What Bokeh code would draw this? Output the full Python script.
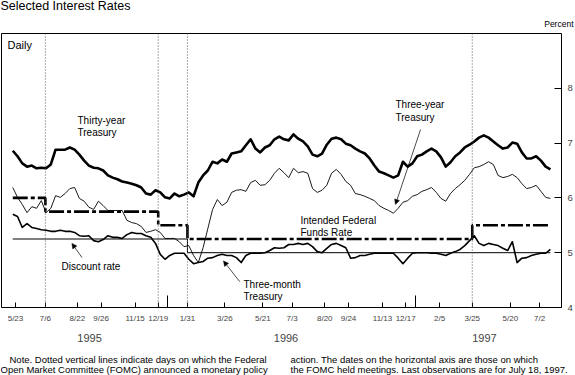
import pandas as pd
from bokeh.plotting import figure
from bokeh.layouts import column
from bokeh.models import (ColumnDataSource, LinearAxis, FixedTicker, Span, Label,
                          Arrow, NormalHead, Range1d)
from bokeh.embed import file_html
from bokeh.resources import INLINE

# ---------------- data (weekly readings, percent) ----------------
weeks = [
    "1995-05-19", "1995-05-26", "1995-06-02", "1995-06-09", "1995-06-16", "1995-06-23", "1995-06-30",
    "1995-07-07", "1995-07-14", "1995-07-21", "1995-07-28", "1995-08-04", "1995-08-11", "1995-08-18",
    "1995-08-25", "1995-09-01", "1995-09-08", "1995-09-15", "1995-09-22", "1995-09-29", "1995-10-06",
    "1995-10-13", "1995-10-20", "1995-10-27", "1995-11-03", "1995-11-10", "1995-11-17", "1995-11-24",
    "1995-12-01", "1995-12-08", "1995-12-15", "1995-12-22", "1995-12-29",
    "1996-01-05", "1996-01-12", "1996-01-19", "1996-01-26", "1996-02-02", "1996-02-09", "1996-02-16",
    "1996-02-23", "1996-03-01", "1996-03-08", "1996-03-15", "1996-03-22", "1996-03-29", "1996-04-05",
    "1996-04-12", "1996-04-19", "1996-04-26", "1996-05-03", "1996-05-10", "1996-05-17", "1996-05-24",
    "1996-05-31", "1996-06-07", "1996-06-14", "1996-06-21", "1996-06-28", "1996-07-05", "1996-07-12",
    "1996-07-19", "1996-07-26", "1996-08-02", "1996-08-09", "1996-08-16", "1996-08-23", "1996-08-30",
    "1996-09-06", "1996-09-13", "1996-09-20", "1996-09-27", "1996-10-04", "1996-10-11", "1996-10-18",
    "1996-10-25", "1996-11-01", "1996-11-08", "1996-11-15", "1996-11-22", "1996-11-29", "1996-12-06",
    "1996-12-13", "1996-12-20", "1996-12-27",
    "1997-01-03", "1997-01-10", "1997-01-17", "1997-01-24", "1997-01-31", "1997-02-07", "1997-02-14",
    "1997-02-21", "1997-02-28", "1997-03-07", "1997-03-14", "1997-03-21", "1997-03-28", "1997-04-04",
    "1997-04-11", "1997-04-18", "1997-04-25", "1997-05-02", "1997-05-09", "1997-05-16", "1997-05-23",
    "1997-05-30", "1997-06-06", "1997-06-13", "1997-06-20", "1997-06-27", "1997-07-04", "1997-07-11",
    "1997-07-18",
]

thirty_year = [
    6.86, 6.76, 6.63, 6.57, 6.59, 6.54, 6.55, 6.54, 6.61, 6.88,
    6.88, 6.88, 6.92, 6.88, 6.79, 6.68, 6.59, 6.55, 6.54, 6.50,
    6.41, 6.37, 6.34, 6.30, 6.28, 6.26, 6.23, 6.19, 6.08, 6.06,
    6.14, 6.10, 6.01, 5.99, 6.08, 6.03, 6.06, 6.10, 6.03, 6.28,
    6.41, 6.50, 6.66, 6.63, 6.70, 6.66, 6.81, 6.83, 6.85, 6.96,
    7.07, 6.90, 6.83, 6.92, 6.96, 7.07, 7.12, 7.07, 7.05, 7.16,
    7.08, 7.03, 6.94, 6.79, 6.76, 6.81, 6.97, 7.08, 7.10, 7.07,
    6.99, 6.96, 6.90, 6.85, 6.81, 6.72, 6.59, 6.48, 6.45, 6.41,
    6.37, 6.41, 6.66, 6.57, 6.63, 6.76, 6.79, 6.85, 6.90, 6.85,
    6.74, 6.57, 6.65, 6.76, 6.83, 6.92, 6.97, 7.03, 7.10, 7.14,
    7.10, 7.03, 6.96, 6.90, 6.92, 7.01, 6.99, 6.83, 6.72, 6.72,
    6.76, 6.68, 6.57, 6.52,
]

three_year = [
    6.19, 6.01, 5.88, 5.73, 5.84, 5.81, 5.95, 5.73, 5.81, 6.04,
    6.01, 6.08, 6.17, 6.19, 5.99, 5.94, 5.83, 5.79, 5.94, 5.86,
    5.77, 5.77, 5.77, 5.77, 5.59, 5.55, 5.53, 5.48, 5.37, 5.39,
    5.42, 5.37, 5.26, 5.26, 5.26, 5.20, 5.11, 5.13, 4.95, 4.82,
    5.09, 5.44, 5.79, 5.97, 5.86, 5.92, 6.10, 6.14, 6.15, 6.12,
    6.28, 6.32, 6.23, 6.24, 6.32, 6.45, 6.54, 6.46, 6.37, 6.54,
    6.46, 6.48, 6.45, 6.17, 6.10, 6.14, 6.23, 6.45, 6.52, 6.43,
    6.30, 6.23, 6.08, 6.06, 6.03, 5.99, 5.95, 5.86, 5.81, 5.77,
    5.72, 5.81, 5.92, 5.95, 6.03, 6.06, 6.12, 6.15, 6.19, 6.10,
    5.99, 5.94, 6.08, 6.17, 6.24, 6.32, 6.43, 6.55, 6.57, 6.61,
    6.66, 6.61, 6.41, 6.37, 6.39, 6.43, 6.37, 6.26, 6.17, 6.19,
    6.23, 6.12, 6.01, 5.99,
]

three_month = [
    5.70, 5.66, 5.46, 5.53, 5.46, 5.44, 5.42, 5.41, 5.39, 5.39,
    5.41, 5.39, 5.39, 5.37, 5.31, 5.30, 5.31, 5.22, 5.20, 5.24,
    5.31, 5.28, 5.28, 5.26, 5.33, 5.37, 5.35, 5.35, 5.31, 5.28,
    5.17, 4.97, 4.88, 4.95, 4.99, 4.99, 4.99, 4.88, 4.80, 4.82,
    4.84, 4.90, 4.91, 4.95, 4.97, 4.95, 4.95, 4.91, 4.82, 4.95,
    4.99, 4.99, 4.99, 5.00, 5.04, 5.09, 5.08, 5.09, 5.15, 5.15,
    5.17, 5.15, 5.17, 5.11, 5.02, 5.00, 5.08, 5.15, 5.17, 5.13,
    5.09, 4.90, 4.91, 4.95, 4.95, 4.97, 4.99, 4.99, 4.99, 4.99,
    4.99, 4.90, 4.80, 4.90, 4.99, 5.00, 5.00, 5.00, 4.99, 4.99,
    4.97, 4.95, 4.99, 5.02, 5.06, 5.13, 5.22, 5.31, 5.17, 5.13,
    5.17, 5.15, 5.13, 5.08, 5.04, 5.20, 4.82, 4.90, 4.91, 4.95,
    4.97, 4.99, 4.99, 5.06,
]

funds_dates = ["1995-05-19", "1995-07-06", "1995-12-19", "1996-01-31", "1997-03-25", "1997-07-18"]
funds_rate = [6.00, 5.75, 5.50, 5.25, 5.50, 5.50]

discount_dates = ["1995-05-19", "1996-01-31", "1997-07-18"]
discount_rate = [5.25, 5.00, 5.00]

policy_dates = ["1995-07-06", "1995-12-19", "1996-01-31", "1997-03-25"]

meeting_dates = ["1995-05-23", "1995-07-06", "1995-08-22", "1995-09-26", "1995-11-15", "1995-12-19",
                 "1996-01-31", "1996-03-26", "1996-05-21", "1996-07-03", "1996-08-20", "1996-09-24",
                 "1996-11-13", "1996-12-17", "1997-02-05", "1997-03-25", "1997-05-20", "1997-07-02"]
meeting_labels = ["5/23", "7/6", "8/22", "9/26", "11/15", "12/19", "1/31", "3/26", "5/21", "7/3",
                  "8/20", "9/24", "11/13", "12/17", "2/5", "3/25", "5/20", "7/2"]
year_breaks = ["1996-01-01", "1997-01-01"]
year_label_dates = ["1995-09-09", "1996-06-24", "1997-04-12"]
year_labels = ["1995", "1996", "1997"]
y_ticks = [4, 5, 6, 7, 8]


def ms(d):
    return pd.Timestamp(d).value // 10**6


FONT = "Liberation Sans"


def blank_fig(h):
    f = figure(width=575, height=h, x_range=Range1d(0, 1), y_range=Range1d(0, 1),
               x_axis_location=None, y_axis_location=None, output_backend="svg",
               toolbar_location=None, min_border=0, frame_align=False)
    f.outline_line_color = None
    f.xgrid.visible = False
    f.ygrid.visible = False
    return f


def txt(fig, x, y, s, size="10px", align="left", font=FONT):
    fig.add_layout(Label(x=x, y=y, x_units="canvas", y_units="canvas", text=s,
                         text_font=font, text_font_size=size, text_align=align,
                         text_baseline="middle", text_color="black", text_line_height=1.15))


# ---------------- header ----------------
hdr = blank_fig(32)
txt(hdr, 0, 5.5, "Selected Interest Rates", size="12.5px")
txt(hdr, 573, 23, "Percent", size="8.5px", align="right")

# ---------------- main chart ----------------
p = figure(width=575, height=318,
           x_range=Range1d(ms("1995-05-02 10:30"), ms("1997-08-03 07:00")),
           y_range=Range1d(4, 9),
           x_axis_location=None, y_axis_location=None,
           output_backend="svg", toolbar_location=None, frame_align=False,
           min_border_left=1, min_border_right=13, min_border_top=1, min_border_bottom=43)
p.outline_line_color = "black"
p.outline_line_width = 1
p.xgrid.visible = False
p.ygrid.visible = False

for d in policy_dates:
    p.add_layout(Span(location=ms(d), dimension="height", line_color="#555555",
                      line_width=1, line_dash="1 2"))

src = ColumnDataSource(dict(date=pd.to_datetime(weeks), thirty=thirty_year,
                            three=three_year, tbill=three_month))

p.step(x=pd.to_datetime(discount_dates), y=discount_rate, mode="after",
       line_color="black", line_width=1)
p.step(x=pd.to_datetime(funds_dates), y=funds_rate, mode="after",
       line_color="black", line_width=2.6, line_dash="15 3 4 3")
p.line("date", "tbill", source=src, line_color="black", line_width=1.6, line_join="round")
p.line("date", "three", source=src, line_color="black", line_width=0.9, line_join="round")
p.line("date", "thirty", source=src, line_color="black", line_width=2.6, line_join="round")

yax = LinearAxis(ticker=FixedTicker(ticks=y_ticks), major_tick_in=7, major_tick_out=0,
                 minor_tick_in=0, minor_tick_out=0, axis_line_color=None,
                 major_label_standoff=6, major_label_text_font=FONT,
                 major_label_text_font_size="9.5px")
p.add_layout(yax, "right")

meet_ms = [ms(d) for d in meeting_dates]
xax = LinearAxis(ticker=FixedTicker(ticks=meet_ms, minor_ticks=[ms(d) for d in year_breaks]),
                 major_label_overrides={m: l for m, l in zip(meet_ms, meeting_labels)},
                 major_tick_in=5, major_tick_out=0, minor_tick_in=12, minor_tick_out=0,
                 axis_line_color=None, major_label_standoff=6,
                 major_label_text_font=FONT, major_label_text_font_size="8px")
p.add_layout(xax, "below")

yl_ms = [ms(d) for d in year_label_dates]
yrax = LinearAxis(ticker=FixedTicker(ticks=yl_ms),
                  major_label_overrides={m: l for m, l in zip(yl_ms, year_labels)},
                  major_tick_in=0, major_tick_out=0, major_tick_line_color=None,
                  minor_tick_line_color=None, axis_line_color=None,
                  major_label_standoff=8, major_label_text_font=FONT,
                  major_label_text_font_size="11px")
p.add_layout(yrax, "below")


def arrow(d0, v0, d1, v1):
    p.add_layout(Arrow(x_start=ms(d0), y_start=v0, x_end=ms(d1), y_end=v1,
                       line_width=0.7, line_color="black",
                       end=NormalHead(size=5, line_color="black", fill_color="black",
                                      line_width=0.5)))


OFF = 32  # main chart starts 32px below the page top
txt(p, 7, 44 - OFF, "Daily", size="11px")
txt(p, 77, 126 - OFF, "Thirty-year\nTreasury")
txt(p, 395, 110.5 - OFF, "Three-year\nTreasury")
txt(p, 300, 226 - OFF, "Intended Federal\nFunds Rate")
txt(p, 61, 266 - OFF, "Discount rate")
txt(p, 243, 290 - OFF, "Three-month\nTreasury")

arrow("1997-01-08", 7.25, "1996-12-02", 5.88)
arrow("1995-08-29", 4.91, "1995-08-14", 5.17)
arrow("1996-04-17", 4.47, "1996-03-24", 4.85)

# ---------------- note ----------------
note = blank_fig(25)
NOTE = "9.5px"
txt(note, 9, 8.5, "Note.  Dotted vertical lines indicate days on which the Federal", size=NOTE)
txt(note, 0, 18.5, "Open Market Committee (FOMC) announced a monetary policy", size=NOTE)
txt(note, 290, 8.5, "action. The dates on the horizontal axis are those on which", size=NOTE)
txt(note, 290, 18.5, "the FOMC held meetings. Last observations are for July 18, 1997.", size=NOTE)

layout = column(hdr, p, note, spacing=0)

html = file_html(layout, INLINE, title="Selected Interest Rates")
html = html.replace("<head>", "<head>\n<style>html,body{margin:0;padding:0;overflow:hidden;}</style>", 1)
open("out.html", "w").write(html)
